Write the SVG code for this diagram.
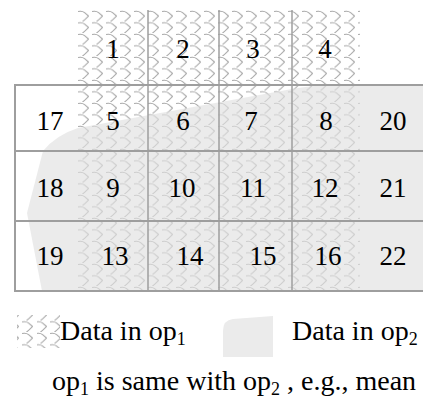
<svg xmlns="http://www.w3.org/2000/svg" width="423" height="411" viewBox="0 0 423 411">
  <defs>
    <!-- scale-like hatch for op1 cells -->
    <pattern id="scales" patternUnits="userSpaceOnUse" x="78" y="10" width="14" height="11.5">
      <path d="M0,1.5 Q4,0.5 6.5,2.5 L10.5,6 L7,9.5 Q5.5,10.8 4.5,11.5" fill="none" stroke="#a3a3a3" stroke-width="1" stroke-linejoin="round"/>
    </pattern>
    <style>
      .grid { stroke: #9e9e9e; fill: none; }
      .num { font-family: "Liberation Serif", "Times New Roman", serif; font-size: 27px; fill: #000; text-anchor: middle; }
      .lbl { font-family: "Liberation Serif", "Times New Roman", serif; font-size: 28px; fill: #000; }
      .sub { font-size: 18px; }
      .blob { fill: #e0e0e0; fill-opacity: 0.65; }
    </style>
  </defs>

  <rect width="423" height="411" fill="#fff"/>

  <!-- op1 region -->
  <g id="op1-region">
    <rect x="78" y="10" width="282" height="281" fill="url(#scales)"/>
  </g>

  <!-- op2 region -->
  <g id="op2-region">
    <path class="blob" d="M43,151 Q56,135 78,128 L292,89 Q310,85.5 335,85 L424,85 L424,291 L42,291 L27,213 Z"/>
  </g>

  <!-- grid lines -->
  <g id="grid">
    <rect class="grid" x="15" y="85" width="420" height="206" stroke-width="2"/>
    <line class="grid" x1="15" y1="151" x2="424" y2="151" stroke-width="2"/>
    <line class="grid" x1="15" y1="221" x2="424" y2="221" stroke-width="2"/>
    <line class="grid" x1="148" y1="10" x2="148" y2="291" stroke-width="1.5"/>
    <line class="grid" x1="219" y1="10" x2="219" y2="291" stroke-width="1.5"/>
    <line class="grid" x1="292" y1="10" x2="292" y2="291" stroke-width="1.5"/>
  </g>

  <!-- cell labels -->
  <g id="cells">
    <text class="num" x="113" y="58">1</text>
    <text class="num" x="183" y="58">2</text>
    <text class="num" x="253" y="58">3</text>
    <text class="num" x="325" y="58">4</text>

    <text class="num" x="50" y="130">17</text>
    <text class="num" x="113" y="130">5</text>
    <text class="num" x="183" y="130">6</text>
    <text class="num" x="251" y="130">7</text>
    <text class="num" x="326" y="130">8</text>
    <text class="num" x="393" y="130">20</text>

    <text class="num" x="50" y="197">18</text>
    <text class="num" x="113" y="197">9</text>
    <text class="num" x="182" y="197">10</text>
    <text class="num" x="253" y="197">11</text>
    <text class="num" x="325" y="197">12</text>
    <text class="num" x="393" y="197">21</text>

    <text class="num" x="50" y="265">19</text>
    <text class="num" x="115" y="265">13</text>
    <text class="num" x="190" y="265">14</text>
    <text class="num" x="263" y="265">15</text>
    <text class="num" x="328" y="265">16</text>
    <text class="num" x="393" y="265">22</text>
  </g>

  <!-- legend -->
  <g id="legend-op1">
    <rect x="17" y="315" width="43" height="33" fill="url(#scales)"/>
    <text class="lbl" x="60" y="340">Data in op<tspan class="sub" dy="5">1</tspan></text>
  </g>
  <g id="legend-op2">
    <path d="M223,331 Q223,320 233,319 L273,316 L273,357 L223,357 Z" fill="#ebebeb"/>
    <text class="lbl" x="292" y="340">Data in op<tspan class="sub" dy="5">2</tspan></text>
  </g>

  <g id="caption">
    <text class="lbl" x="52" y="390">op<tspan class="sub" dy="5">1</tspan><tspan dy="-5"> is same with </tspan><tspan>op</tspan><tspan class="sub" dy="5">2</tspan><tspan dy="-5"> , e.g., mean</tspan></text>
  </g>
</svg>
